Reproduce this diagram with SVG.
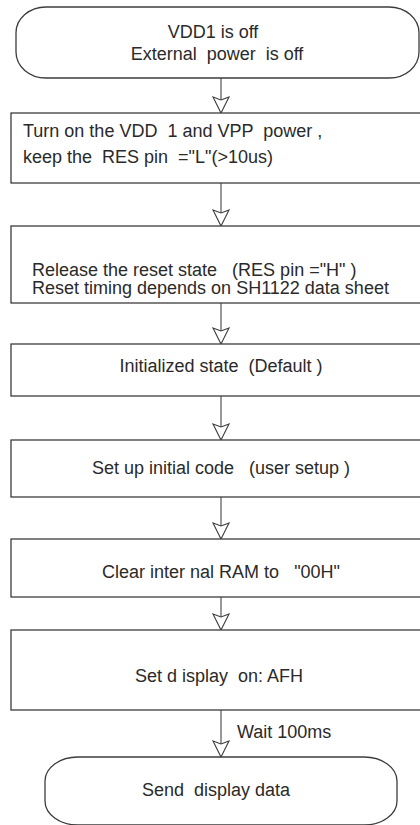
<svg xmlns="http://www.w3.org/2000/svg" xmlns:xlink="http://www.w3.org/1999/xlink" width="420" height="825" viewBox="0 0 420 825">
<style>
.shape{fill:#fff;stroke:#3c3c3c;stroke-width:1.3}
.t{font-family:"Liberation Sans",Arial,sans-serif;font-size:18px;fill:#2a2a2a;white-space:pre}
.c{text-anchor:middle}
.ln{stroke:#555;stroke-width:1.2;fill:none}
.ah{fill:#fff;stroke:#3c3c3c;stroke-width:1.1;stroke-linejoin:miter}
</style>
<defs>
<path id="ah" class="ah" d="M-8,-16 L0,-13 L8,-16 L0,0 Z"/>
</defs>
<rect width="420" height="825" fill="#fff"/>
<g id="connectors">
<line class="ln" x1="221" y1="78" x2="221" y2="100"/>
<use xlink:href="#ah" x="221" y="113"/>
<line class="ln" x1="221" y1="183" x2="221" y2="213"/>
<use xlink:href="#ah" x="221" y="226"/>
<line class="ln" x1="221" y1="303" x2="221" y2="331"/>
<use xlink:href="#ah" x="221" y="344"/>
<line class="ln" x1="221" y1="396" x2="221" y2="427"/>
<use xlink:href="#ah" x="221" y="440"/>
<line class="ln" x1="221" y1="497" x2="221" y2="526"/>
<use xlink:href="#ah" x="221" y="539"/>
<line class="ln" x1="221" y1="597" x2="221" y2="617"/>
<use xlink:href="#ah" x="221" y="630"/>
<line class="ln" x1="221" y1="710" x2="221" y2="744"/>
<use xlink:href="#ah" x="221" y="757"/>
<text class="t" x="237" y="738">Wait 100ms</text>
</g>
<g id="start">
<rect class="shape" x="16" y="7" width="403" height="71" rx="30" ry="26"/>
<text class="t c" x="213" y="38">VDD1 is off</text>
<text class="t c" x="217" y="60">External  power  is off</text>
</g>
<g id="step1">
<rect class="shape" x="11" y="113" width="420" height="70"/>
<text class="t" x="23" y="137">Turn on the VDD  1 and VPP  power ,</text>
<text class="t" x="23" y="163">keep the  RES pin  ="L"(&gt;10us)</text>
</g>
<g id="step2">
<rect class="shape" x="11" y="226" width="420" height="77"/>
<text class="t" x="32" y="276">Release the reset state   (RES pin ="H" )</text>
<text class="t" x="32" y="294">Reset timing depends on SH1122 data sheet</text>
</g>
<g id="step3">
<rect class="shape" x="11" y="344" width="420" height="52"/>
<text class="t c" x="221" y="372">Initialized state  (Default )</text>
</g>
<g id="step4">
<rect class="shape" x="11" y="440" width="420" height="57"/>
<text class="t c" x="221" y="474">Set up initial code   (user setup )</text>
</g>
<g id="step5">
<rect class="shape" x="11" y="539" width="420" height="58"/>
<text class="t c" x="221" y="578">Clear inter nal RAM to   "00H"</text>
</g>
<g id="step6">
<rect class="shape" x="11" y="630" width="420" height="80"/>
<text class="t c" x="219" y="682">Set d isplay  on: AFH</text>
</g>
<g id="end">
<rect class="shape" x="45" y="757" width="352" height="68" rx="33" ry="24"/>
<text class="t c" x="216" y="796">Send  display data</text>
</g>
</svg>
